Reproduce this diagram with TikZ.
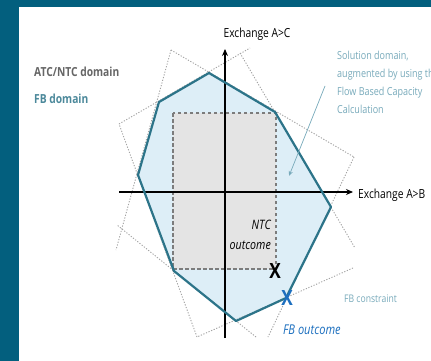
\documentclass[tikz,border=0pt]{standalone}
\usepackage{fontspec}
\setmainfont{Open Sans}[FakeStretch=0.82]
\usetikzlibrary{positioning,arrows.meta}

\definecolor{frame}{HTML}{035F7E}
\definecolor{fbline}{HTML}{2C7489}
\definecolor{fbfill}{HTML}{DDEEF7}
\definecolor{ntcfill}{HTML}{E4E4E4}
\definecolor{ntcline}{HTML}{7C7C7C}
\definecolor{cons}{HTML}{A3A3A3}
\definecolor{note}{HTML}{78AABB}
\definecolor{fbblue}{HTML}{1C6FBF}

\tikzset{
  constraint/.style={cons, line width=0.9pt, dash pattern=on 1.2pt off 1.6pt},
  axis/.style={line width=1.3pt, -{Stealth[length=7pt,width=6pt]}},
  lbl/.style={inner sep=0pt, font=\fontsize{12.5}{14}\selectfont},
  mark x/.style={inner sep=0pt, font=\fontsize{21}{21}\selectfont\bfseries},
}

\begin{document}
\begin{tikzpicture}[x=1pt,y=-1pt]
\clip (0,0) rectangle (431,361);
\fill[frame] (0,0) rectangle (431,361);
\fill[white] (19,7) rectangle (431,361);

% corners of the FB domain
\coordinate (v1) at (209,73);
\coordinate (v2) at (275,112);
\coordinate (v3) at (331,207);
\coordinate (v4) at (286,298);
\coordinate (v5) at (236,321);
\coordinate (v6) at (174,271);
\coordinate (v7) at (138,175);
\coordinate (v8) at (159,102);
% ends of the constraint lines
\coordinate (c1) at (171,50);
\coordinate (c2) at (250,48);
\coordinate (c3) at (354,157);
\coordinate (c4) at (197,337);
\coordinate (c5) at (119,124);
\coordinate (e1) at (116,250);
\coordinate (e4a) at (240,53);
\coordinate (e4b) at (355,248);
\coordinate (e5) at (268,337);
\coordinate (e6) at (353,268);
\coordinate (e7a) at (256,337);
\coordinate (e7b) at (117,225);

\fill[fbfill] (v1) -- (v2) -- (v3) -- (v4) -- (v5) -- (v6) -- (v7) -- (v8) -- cycle;
\fill[ntcfill] (173,113) rectangle (276,269);

\draw[constraint] (c1) -- (c3);
\draw[constraint] (c1) -- (e1);
\draw[constraint] (c5) -- (c2);
\draw[constraint] (e4a) -- (e4b);
\draw[constraint] (c3) -- (e5);
\draw[constraint] (e6) -- (c4);
\draw[constraint] (e7a) -- (e7b);
\draw[constraint] (c4) -- (c5);

\draw[ntcline, line width=1.6pt, dash pattern=on 3.5pt off 2.5pt] (173,113) rectangle (276,269);

% axes
\coordinate (xs) at (119,192);
\coordinate (xe) at (353,192);
\coordinate (ys) at (225,338);
\coordinate (ye) at (225,49);
\draw[axis] (xs) -- (xe);
\draw[axis] (ys) -- (ye);

\draw[fbline, line width=2.2pt, line join=round] (v1) -- (v2) -- (v3) -- (v4) -- (v5) -- (v6) -- (v7) -- (v8) -- cycle;

% labels
\node[lbl, anchor=base] (ac) at (257,38) {Exchange A>C};
\node[lbl, anchor=base west] (ab) at (358,198) {Exchange A>B};
\node[lbl, anchor=base west, text=black!60, font=\fontsize{12.5}{14}\selectfont\bfseries] (atc) at (34,77) {ATC/NTC domain};
\node[lbl, anchor=base west, text=fbline!85, font=\fontsize{12.5}{14}\selectfont\bfseries] (fb) at (34,103) {FB domain};
\node[lbl, anchor=north west, align=left, text=note, font=\fontsize{11}{18}\selectfont] (sol) at (337,51)
  {Solution domain,\\augmented by using the\\Flow Based Capacity\\Calculation};
\coordinate (tip) at (289,176);
\draw[note, line width=0.7pt, -{Stealth[length=5pt,width=4pt]}] (325,86) -- (tip);
\node[lbl, anchor=base east, font=\fontsize{13}{15}\selectfont\itshape] (ntc) at (271,229) {NTC};
\node[lbl, anchor=base east, font=\fontsize{13}{15}\selectfont\itshape] (out) at (271,249) {outcome};
\node[mark x, anchor=base] (xn) at (275,278) {X};
\node[mark x, anchor=center, text=fbblue] (xf) at (287,298) {X};
\node[lbl, anchor=base west, text=fbblue, font=\fontsize{13.5}{15}\selectfont\itshape] (fbo) at (283,334) {FB outcome};
\node[lbl, anchor=base west, text=note, font=\fontsize{10.5}{12}\selectfont] (fbc) at (344,302) {FB constraint};
\end{tikzpicture}
\end{document}
